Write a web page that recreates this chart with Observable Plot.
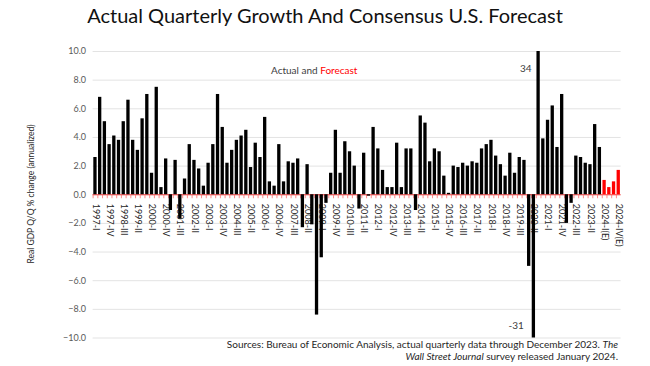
<!DOCTYPE html>
<html>
<head>
<meta charset="utf-8">
<script src="https://cdn.jsdelivr.net/npm/d3@7"></script>
<script src="https://cdn.jsdelivr.net/npm/@observablehq/plot@0.6"></script>
<style>
  html, body { margin: 0; padding: 0; background: #fff; }
  body { width: 650px; height: 366px; position: relative; overflow: hidden; font-family: Lato, "Liberation Sans", sans-serif; }
  #title { position: absolute; top: 5px; left: 0; width: 650px; text-align: center; font-size: 20px; line-height: 21px; color: #111; }
  #chart { position: absolute; top: 36px; left: 0; }
  #legend { position: absolute; top: 64px; left: 271px; font-size: 10px; line-height: 12px; color: #404040; white-space: nowrap; }
  #legend .f { color: #ff0000; }
  #ylabel { position: absolute; left: 31px; top: 194px; transform: translate(-50%, -50%) rotate(-90deg); font-size: 8.5px; color: #262626; white-space: nowrap; }
  #caption { position: absolute; top: 338px; right: 32px; text-align: right; font-size: 10px; line-height: 12px; color: #262626; white-space: nowrap; }
</style>
</head>
<body>
<div id="title">Actual Quarterly Growth And Consensus U.S. Forecast</div>
<div id="chart"></div>
<div id="legend">Actual and <span class="f">Forecast</span></div>
<div id="ylabel">Real GDP Q/Q % change (annualized)</div>
<div id="caption">Sources: Bureau of Economic Analysis, actual quarterly data through December 2023. <i>The</i><br><i>Wall Street Journal</i> survey released January 2024.</div>
<script>
const years = d3.range(1997, 2025);
const quarterNames = ["I", "II", "III", "IV"];
const forecastYear = 2024;

// Actual real GDP growth, Q/Q annualized, 1997-I .. 2023-IV
const actual = [
  2.6, 6.8, 5.1, 3.5,   // 1997
  4.1, 3.8, 5.1, 6.6,   // 1998
  3.8, 3.1, 5.3, 7.0,   // 1999
  1.5, 7.5, 0.5, 2.5,   // 2000
  -1.1, 2.4, -1.7, 1.1, // 2001
  3.5, 2.4, 1.8, 0.6,   // 2002
  2.2, 3.5, 7.0, 4.7,   // 2003
  2.2, 3.1, 3.8, 4.1,   // 2004
  4.5, 1.9, 3.6, 2.6,   // 2005
  5.4, 0.9, 0.6, 3.5,   // 2006
  0.9, 2.3, 2.2, 2.5,   // 2007
  -2.3, 2.1, -2.1, -8.4,// 2008
  -4.4, -0.6, 1.5, 4.5, // 2009
  1.5, 3.7, 3.0, 2.0,   // 2010
  -1.0, 2.9, -0.1, 4.7, // 2011
  3.2, 1.7, 0.5, 0.5,   // 2012
  3.6, 0.5, 3.2, 3.2,   // 2013
  -1.1, 5.5, 5.0, 2.3,  // 2014
  3.2, 3.0, 1.3, 0.1,   // 2015
  2.0, 1.9, 2.2, 2.0,   // 2016
  2.3, 2.2, 3.2, 3.5,   // 2017
  3.8, 2.7, 2.1, 1.3,   // 2018
  2.9, 1.5, 2.6, 2.4,   // 2019
  -5.0, -31, 34, 3.9,   // 2020
  5.2, 6.2, 3.3, 7.0,   // 2021
  -2.0, -0.6, 2.7, 2.6, // 2022
  2.2, 2.1, 4.9, 3.3    // 2023
];
// WSJ consensus forecast 2024-I .. 2024-IV
const forecast = [1.0, 0.5, 0.9, 1.7];

const yTicks = [-10, -8, -6, -4, -2, 0, 2, 4, 6, 8, 10];

const quarters = [];
years.forEach(y => quarterNames.forEach(q => quarters.push(y + "-" + q + (y === forecastYear ? "(E)" : ""))));

const data = quarters.map((q, i) => ({
  q,
  v: i < actual.length ? actual[i] : forecast[i - actual.length],
  f: i >= actual.length
}));
const labelQuarters = quarters.filter((q, i) => i % 3 === 0);
const big = data.filter(d => Math.abs(d.v) > 10);

const chart = Plot.plot({
  width: 650,
  height: 312,
  marginLeft: 92.6,
  marginRight: 29.4,
  marginTop: 15,
  marginBottom: 10.5,
  style: { fontFamily: "Lato, 'Liberation Sans', sans-serif", background: "transparent", overflow: "visible" },
  x: { type: "band", domain: quarters, paddingInner: 0.3, paddingOuter: 0.15, axis: null },
  y: { domain: [-10, 10], clamp: true, ticks: yTicks, tickFormat: d3.format(".1f"), label: null },
  marks: [
    Plot.gridY(yTicks, { stroke: "#e3e3e3", strokeOpacity: 1, strokeWidth: 1 }),
    Plot.axisY(yTicks, { tickSize: 0, tickPadding: 7, fontSize: 9, fill: "#595959", tickFormat: d3.format(".1f"), label: null }),
    Plot.text(labelQuarters, { x: d => d, y: d => 0, text: d => d, rotate: 90, textAnchor: "start", lineAnchor: "middle", dy: 9, dx: 0, fontSize: 9, fill: "#262626" }),
    Plot.ruleY([0], { stroke: "#ff3b3b", strokeWidth: 1 }),
    Plot.ruleX(quarters, { x: d => d, y1: d => 0, y2: d => 0, insetBottom: -4, stroke: "#ff6b6b", strokeWidth: 0.8, dx: -2.35 }),
    Plot.barY(data, { x: "q", y1: d => 0, y2: "v", fill: d => d.f ? "#ff0000" : "#000000" }),
    Plot.text(big.filter(d => d.v > 0), { x: "q", y: "v", text: d => String(d.v), textAnchor: "end", dx: -7, dy: 17, fontSize: 10, fill: "#404040" }),
    Plot.text(big.filter(d => d.v < 0), { x: "q", y: "v", text: d => String(d.v), textAnchor: "end", dx: -10, dy: -12, fontSize: 10, fill: "#404040" })
  ]
});
document.getElementById("chart").appendChild(chart);
</script>
</body>
</html>
